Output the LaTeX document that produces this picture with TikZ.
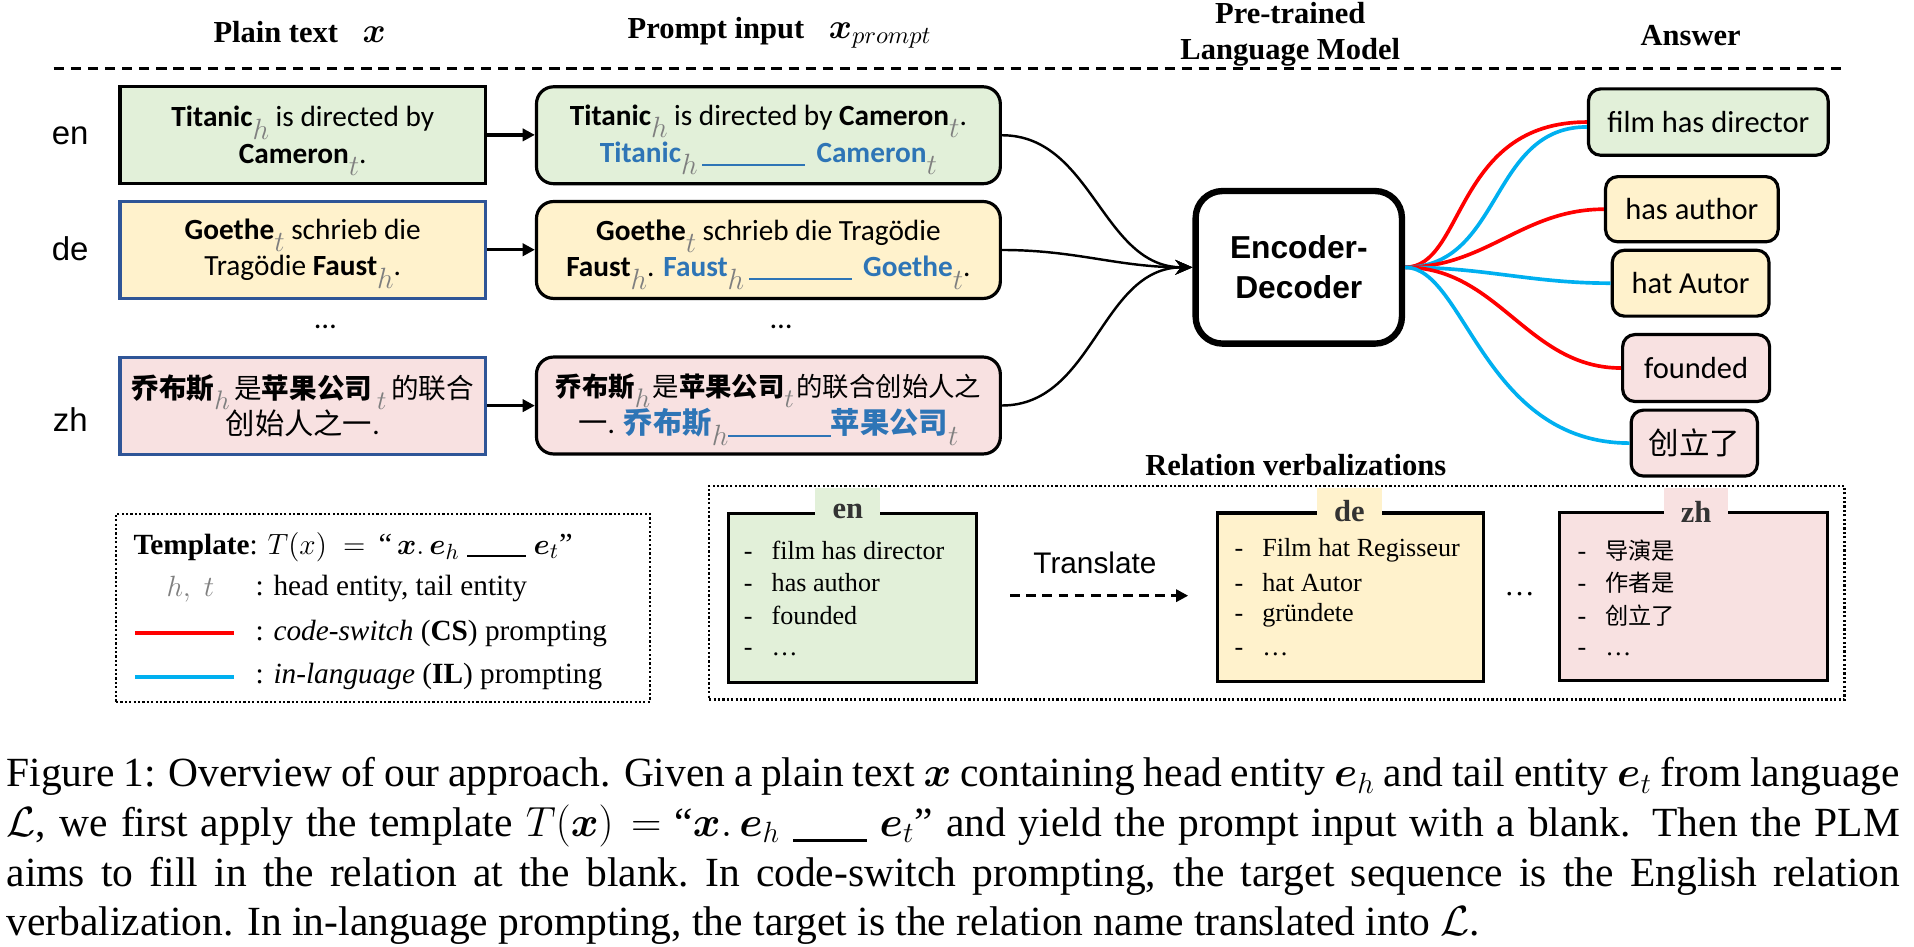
\documentclass[tikz,border=0pt]{standalone}
\usepackage{amsmath}
\usepackage{fontspec}
\setmainfont{Liberation Serif}
\newfontfamily\calfont{Carlito}
\newfontfamily\arialfont{Liberation Sans}
\newfontfamily\cjkfont{Noto Sans CJK SC}
\usetikzlibrary{arrows.meta}
\definecolor{fgreen}{HTML}{E2F0D9}
\definecolor{fyellow}{HTML}{FFF2CC}
\definecolor{fpink}{HTML}{F8E1E1}
\definecolor{bblue}{HTML}{2F5597}
\definecolor{tblue}{HTML}{2E75B6}
\definecolor{sgray}{HTML}{7F7F7F}
\definecolor{lred}{HTML}{FF0000}
\definecolor{lblue}{HTML}{00B0F0}
\newcommand{\hsub}{\raisebox{-0.42em}[0pt][0pt]{\textcolor{sgray}{$h$}}}
\newcommand{\tsub}{\raisebox{-0.42em}[0pt][0pt]{\textcolor{sgray}{$t$}}}
\newcommand{\bblank}[1]{\textcolor{tblue}{\rule[-1.5pt]{#1}{0.8pt}}}
\newcommand{\bbl}[1]{\textcolor{tblue}{\textbf{#1}}}
\newcommand{\cjkb}[1]{{\cjkfont\bfseries #1}}
\newcommand{\cjkr}[1]{{\cjkfont #1}}
\begin{document}
\begin{tikzpicture}[x=0.5pt,y=-0.5pt,
  hd/.style={font=\fontsize{12.5}{15}\selectfont\bfseries, inner sep=0pt, align=center},
  lang/.style={font=\arialfont\fontsize{13.5}{16}\selectfont, inner sep=0pt},
  boxtxt/.style={font=\calfont\fontsize{12}{15}\selectfont, align=center, inner sep=0pt},
  plainbox/.style={boxtxt, draw=bblue, line width=1.3pt, minimum width=149.7pt, minimum height=39.7pt},
  promptbox/.style={boxtxt, draw=black, line width=1.3pt, rounded corners=7pt, minimum width=190pt, minimum height=39.7pt},
  parrow/.style={line width=1.4pt, -{Triangle[length=5pt,width=5pt]}},
  carrow/.style={line width=1pt, -{Stealth[length=7pt,width=6pt]}},
  encbox/.style={draw=black, line width=2.6pt, rounded corners=11pt, minimum width=84.5pt, minimum height=62.5pt, align=center, inner sep=0pt, font=\arialfont\bfseries\fontsize{13}{16.5}\selectfont},
  ansbox/.style={draw=black, line width=1.3pt, rounded corners=5pt, inner sep=0pt, font=\calfont\fontsize{12.5}{15}\selectfont},
  redl/.style={draw=lred, line width=1.5pt},
  bluel/.style={draw=lblue, line width=1.5pt},
  dotbox/.style={draw=black, line width=0.9pt, dash pattern=on 0.9pt off 0.9pt, inner sep=0pt},
  legtxt/.style={font=\fontsize{12}{14}\selectfont, inner sep=0pt, anchor=west},
  relbox/.style={draw=black, line width=1.3pt, inner sep=0pt},
  tabfill/.style={inner sep=0pt, minimum width=26.5pt, minimum height=15pt},
  tablbl/.style={font=\fontsize{12.5}{14}\selectfont\bfseries, text=black!80, inner sep=0pt},
  itemtxt/.style={font=\fontsize{10.7}{12}\selectfont, inner sep=0pt, anchor=west},
  transl/.style={font=\arialfont\fontsize{12.2}{14}\selectfont, inner sep=0pt},
  darrow/.style={line width=1.2pt, dash pattern=on 4pt off 2.6pt, -{Triangle[length=5pt,width=5pt]}},
  captxt/.style={font=\fontsize{17}{20.25}\selectfont, inner sep=0pt, anchor=base west},
  dline/.style={line width=1pt, dash pattern=on 4.2pt off 2.8pt}
]
\useasboundingbox (0,0) rectangle (1568,775);

% headings
\node[hd] (hPlain) at (245.5,26) {Plain text\;\; {\fontsize{14.4}{15}\selectfont$\boldsymbol{x}$}};
\node[hd] (hPrompt) at (638.7,27) {Prompt input\;\; {\fontsize{14.4}{15}\selectfont$\boldsymbol{x}_{prompt}$}};
\node[hd] (hPLM) at (1057,28) {Pre-trained\\Language Model};
\node[hd] (hAns) at (1385,29) {Answer};
\coordinate (dl) at (44,56);
\coordinate (dr) at (1508,56);
\draw[dline] (dl) -- (dr);

% language labels
\node[lang] (len) at (57.5,111) {en};
\node[lang] (lde) at (57.5,203.5) {de};
\node[lang] (lzh) at (57.5,344) {zh};

% plain text boxes
\node[plainbox, draw=black, fill=fgreen] (p1) at (248,110.5)
  {\textbf{Titanic}\hsub{} is directed by\\\textbf{Cameron}\tsub.};
\node[plainbox, fill=fyellow] (p2) at (248,204.6)
  {\textbf{Goethe}\tsub{} schrieb die\\Tragödie \textbf{Faust}\hsub.};
\node[plainbox, fill=fpink] (p3) at (248,332.3)
  {\fontsize{11.3}{15}\selectfont\cjkb{乔布斯}\hsub\,\cjkr{是}\cjkb{苹果公司}\,\tsub\,\cjkr{的联合}\\\cjkr{创始人之一}.};

% prompt boxes
\node[promptbox, fill=fgreen] (q1) at (629.5,110.8)
  {\textbf{Titanic}\hsub{} is directed by \textbf{Cameron}\tsub.\\\bbl{Titanic}\hsub\,\bblank{42pt}\, \bbl{Cameron}\tsub};
\node[promptbox, fill=fyellow] (q2) at (629.5,204.8)
  {\textbf{Goethe}\tsub{} schrieb die Tragödie\\\textbf{Faust}\hsub. \bbl{Faust}\hsub\,\bblank{42pt}\, \bbl{Goethe}\tsub.};
\node[promptbox, fill=fpink] (q3) at (629.5,332.2)
  {\fontsize{10.8}{15}\selectfont\cjkb{乔布斯}\hsub\kern1pt\cjkr{是}\cjkb{苹果公司}\tsub\kern1pt\cjkr{的联合创始人之}\\\cjkr{一}. \textcolor{tblue}{\cjkb{乔布斯}}\hsub\bblank{42pt}\textcolor{tblue}{\cjkb{苹果公司}}\tsub};

\node[boxtxt, font=\calfont\fontsize{12.5}{15}\selectfont] (dots1) at (266.5,268) {\dots};
\node[boxtxt, font=\calfont\fontsize{12.5}{15}\selectfont] (dots2) at (640,268) {\dots};

\draw[parrow] (p1.east) -- (p1.east -| q1.west);
\draw[parrow] (p2.east) -- (p2.east -| q2.west);
\draw[parrow] (p3.east) -- (p3.east -| q3.west);

% encoder-decoder
\node[encbox] (enc) at (1064,219) {Encoder-\\Decoder};
\draw[carrow] (q1.east) to[out=0,in=180] (enc.west);
\draw[carrow] (q2.east) to[out=0,in=180] (enc.west);
\draw[carrow] (q3.east) to[out=0,in=180] (enc.west);

% answers
\node[ansbox, fill=fgreen, minimum width=98.2pt, minimum height=27.2pt] (a1) at (1399.5,100) {film has director};
\node[ansbox, fill=fyellow, minimum width=70.7pt, minimum height=26.7pt] (a2) at (1386,171.4) {has author};
\node[ansbox, fill=fyellow, minimum width=64.2pt, minimum height=27pt] (a3) at (1385,232) {hat Autor};
\node[ansbox, fill=fpink, minimum width=60.2pt, minimum height=27.4pt] (a4) at (1389.5,301.5) {founded};
\node[ansbox, fill=fpink, minimum width=51.7pt, minimum height=27pt] (a5) at (1388,363) {\cjkr{创立了}};

\draw[redl] (enc.east) .. controls +(49,0) and +(-109,0) .. (a1.west);
\draw[bluel] (enc.east) .. controls +(80,0) and +(-80,0) .. ([yshift=-2pt]a1.west);
\draw[redl] (enc.east) to[out=0,in=180] (a2.west);
\draw[bluel] (enc.east) to[out=0,in=180] (a3.west);
\draw[redl] (enc.east) to[out=0,in=180] (a4.west);
\draw[bluel] (enc.east) .. controls +(49,0) and +(-120,0) .. (a5.west);

% legend
\node[dotbox, minimum width=218.7pt, minimum height=77pt] (leg) at (313.7,498) {};
\node[legtxt] (tpl) at (109,448) {\textbf{Template}: {\fontsize{12.5}{14}\selectfont$T(x)\;=\;\,$“\,$\boldsymbol{x}.\,\boldsymbol{e}_h$ \rule[-1pt]{24pt}{0.6pt} $\boldsymbol{e}_t$”}};
\node[legtxt] (ht) at (136,482.5) {\textcolor{sgray}{$h,\; t$}};
\node[legtxt] (l2) at (209,482.5) {: head entity, tail entity};
\coordinate (r1) at (111,518.6);
\coordinate (r2) at (192,518.6);
\draw[redl] (r1) -- (r2);
\node[legtxt] (l3) at (209,518.6) {: \textit{code-switch} (\textbf{CS}) prompting};
\coordinate (b1) at (111,554.6);
\coordinate (b2) at (192,554.6);
\draw[bluel] (b1) -- (b2);
\node[legtxt] (l4) at (209,554.6) {: \textit{in-language} (\textbf{IL}) prompting};

% relation verbalizations
\node[hd] (rvt) at (1061.5,381) {Relation verbalizations};
\node[dotbox, minimum width=465pt, minimum height=87.5pt] (rv) at (1046,485.5) {};
\node[relbox, fill=fgreen, minimum width=101.8pt, minimum height=69.3pt] (rE) at (698.5,490) {};
\node[relbox, fill=fyellow, minimum width=108.8pt, minimum height=69pt] (rD) at (1106.5,489.3) {};
\node[relbox, fill=fpink, minimum width=109.8pt, minimum height=68.8pt] (rZ) at (1387.5,488.5) {};
\node[tabfill, fill=fgreen] (tE) at (694.5,415) {};
\node[tabfill, fill=fyellow] (tD) at (1105.5,415) {};
\node[tabfill, fill=fpink] (tZ) at (1389.5,415) {};
\node[tablbl] (tEl) at (694.5,419) {en};
\node[tablbl] (tDl) at (1105.5,419) {de};
\node[tablbl] (tZl) at (1389.5,419) {zh};

\node[itemtxt] (e1) at (609,451) {\makebox[11.4pt][l]{-}film has director};
\node[itemtxt] (e2) at (609,477.6) {\makebox[11.4pt][l]{-}has author};
\node[itemtxt] (e3) at (609,504) {\makebox[11.4pt][l]{-}founded};
\node[itemtxt] (e4) at (609,534) {\makebox[11.4pt][l]{-}\dots};
\node[itemtxt] (g1) at (1011,451) {\makebox[11.4pt][l]{-}Film hat Regisseur};
\node[itemtxt] (g2) at (1011,477.6) {\makebox[11.4pt][l]{-}hat Autor};
\node[itemtxt] (g3) at (1011,504) {\makebox[11.4pt][l]{-}gründete};
\node[itemtxt] (g4) at (1011,534) {\makebox[11.4pt][l]{-}\dots};
\node[itemtxt] (z1) at (1292,451) {\makebox[11.4pt][l]{-}{\cjkfont\fontsize{9.5}{12}\selectfont 导演是}};
\node[itemtxt] (z2) at (1292,477.6) {\makebox[11.4pt][l]{-}{\cjkfont\fontsize{9.5}{12}\selectfont 作者是}};
\node[itemtxt] (z3) at (1292,504) {\makebox[11.4pt][l]{-}{\cjkfont\fontsize{9.5}{12}\selectfont 创立了}};
\node[itemtxt] (z4) at (1292,534) {\makebox[11.4pt][l]{-}\dots};

\node[transl] (tr) at (897,461.5) {Translate};
\draw[darrow] ([xshift=13pt]rE.east |- 0,488) -- ([xshift=-11.5pt]rD.west |- 0,488);
\node[font=\fontsize{12.5}{14}\selectfont, inner sep=0pt] (dz) at (1245,487) {\dots};

% caption
\node[captxt] (c1) at (5,644.5) {\hbox to 775.5pt{Figure 1: Overview of our approach. Given a plain text $\boldsymbol{x}$ containing head entity $\boldsymbol{e}_h$ and tail entity $\boldsymbol{e}_t$ from language}};
\node[captxt] (c2) at (5,685.4) {\hbox to 775.5pt{$\mathcal{L}$, we first apply the template $T(\boldsymbol{x}) =$ “$\boldsymbol{x}.\,\boldsymbol{e}_h$ \rule[-2pt]{30pt}{1pt} $\boldsymbol{e}_t$” and yield the prompt input with a blank. Then the PLM}};
\node[captxt] (c3) at (5,726.4) {\hbox to 775.5pt{aims to fill in the relation at the blank.\ In code-switch prompting, the target sequence is the English relation}};
\node[captxt] (c4) at (5,766) {verbalization. In in-language prompting, the target is the relation name translated into $\mathcal{L}$.};
\end{tikzpicture}
\end{document}
